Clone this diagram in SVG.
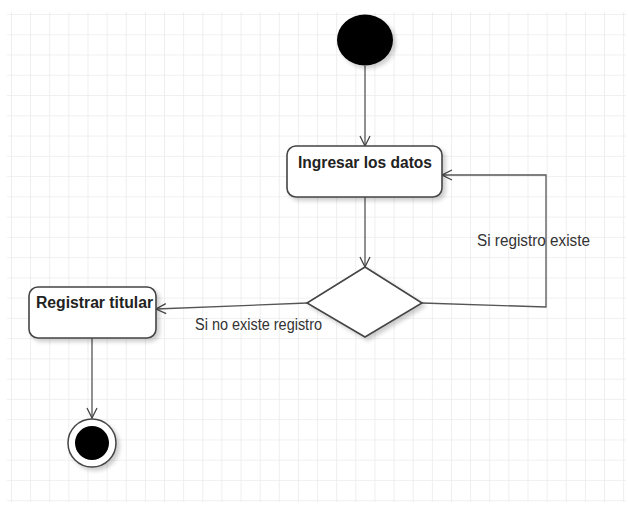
<svg xmlns="http://www.w3.org/2000/svg" width="628" height="515" viewBox="0 0 628 515">
  <defs>
    <pattern id="grid" x="11" y="14" width="19.13" height="20.26" patternUnits="userSpaceOnUse">
      <path d="M0 0 V20.26 M0 0 H19.13" fill="none" stroke="#ebebeb" stroke-width="1.6"/>
    </pattern>
    <filter id="shadow" x="-20%" y="-20%" width="150%" height="150%">
      <feGaussianBlur in="SourceAlpha" stdDeviation="2"/>
      <feOffset dx="3" dy="3" result="b"/>
      <feComponentTransfer><feFuncA type="linear" slope="0.2"/></feComponentTransfer>
      <feMerge><feMergeNode/><feMergeNode in="SourceGraphic"/></feMerge>
    </filter>
    <marker id="open" viewBox="0 0 12 12" refX="11" refY="6" markerWidth="12" markerHeight="12" markerUnits="userSpaceOnUse" orient="auto">
      <path d="M1 1 L11 6 L1 11" fill="none" stroke="#444" stroke-width="1.3"/>
    </marker>
  </defs>
  <style>
    .node { fill: #fff; stroke: #444; stroke-width: 1.6; }
    .edge { fill: none; stroke: #555; stroke-width: 1.3; }
    .title { font-family: "Liberation Sans", Arial, sans-serif; font-size: 16px; font-weight: bold; fill: #222; }
    .lbl { font-family: "Liberation Sans", Arial, sans-serif; font-size: 16px; fill: #333; }
  </style>
  <rect width="628" height="515" fill="#fff"/>
  <rect x="7" y="12" width="619" height="490" fill="url(#grid)"/>

  <g id="connectors">
    <path class="edge" d="M365 66 V146" marker-end="url(#open)"/>
    <path class="edge" d="M365 197 V267" marker-end="url(#open)"/>
    <path class="edge" d="M422 303 L546 307 V175 H442" marker-end="url(#open)"/>
    <path class="edge" d="M307 303 L156 309" marker-end="url(#open)"/>
    <path class="edge" d="M92 338 V418" marker-end="url(#open)"/>
    <text class="lbl" x="477" y="246" textLength="113" lengthAdjust="spacingAndGlyphs">Si registro existe</text>
    <text class="lbl" x="195" y="330" textLength="127" lengthAdjust="spacingAndGlyphs">Si no existe registro</text>
  </g>

  <g id="start">
    <ellipse cx="365" cy="40" rx="28" ry="25.5" fill="#000" filter="url(#shadow)"/>
  </g>

  <g id="ingresar">
    <rect class="node" x="287" y="146" width="155" height="51" rx="9" filter="url(#shadow)"/>
    <text class="title" x="298" y="168" textLength="134" lengthAdjust="spacingAndGlyphs">Ingresar los datos</text>
  </g>

  <g id="decision">
    <polygon class="node" points="365,267 422,303 365,337 307,303" filter="url(#shadow)"/>
  </g>

  <g id="registrar">
    <rect class="node" x="29" y="287" width="127" height="51" rx="9" filter="url(#shadow)"/>
    <text class="title" x="36" y="308" textLength="117" lengthAdjust="spacingAndGlyphs">Registrar titular</text>
  </g>

  <g id="end">
    <circle cx="92" cy="443" r="24" fill="#fff" stroke="#444" stroke-width="1.5" filter="url(#shadow)"/>
    <circle cx="92" cy="443" r="17" fill="#000"/>
  </g>
</svg>
